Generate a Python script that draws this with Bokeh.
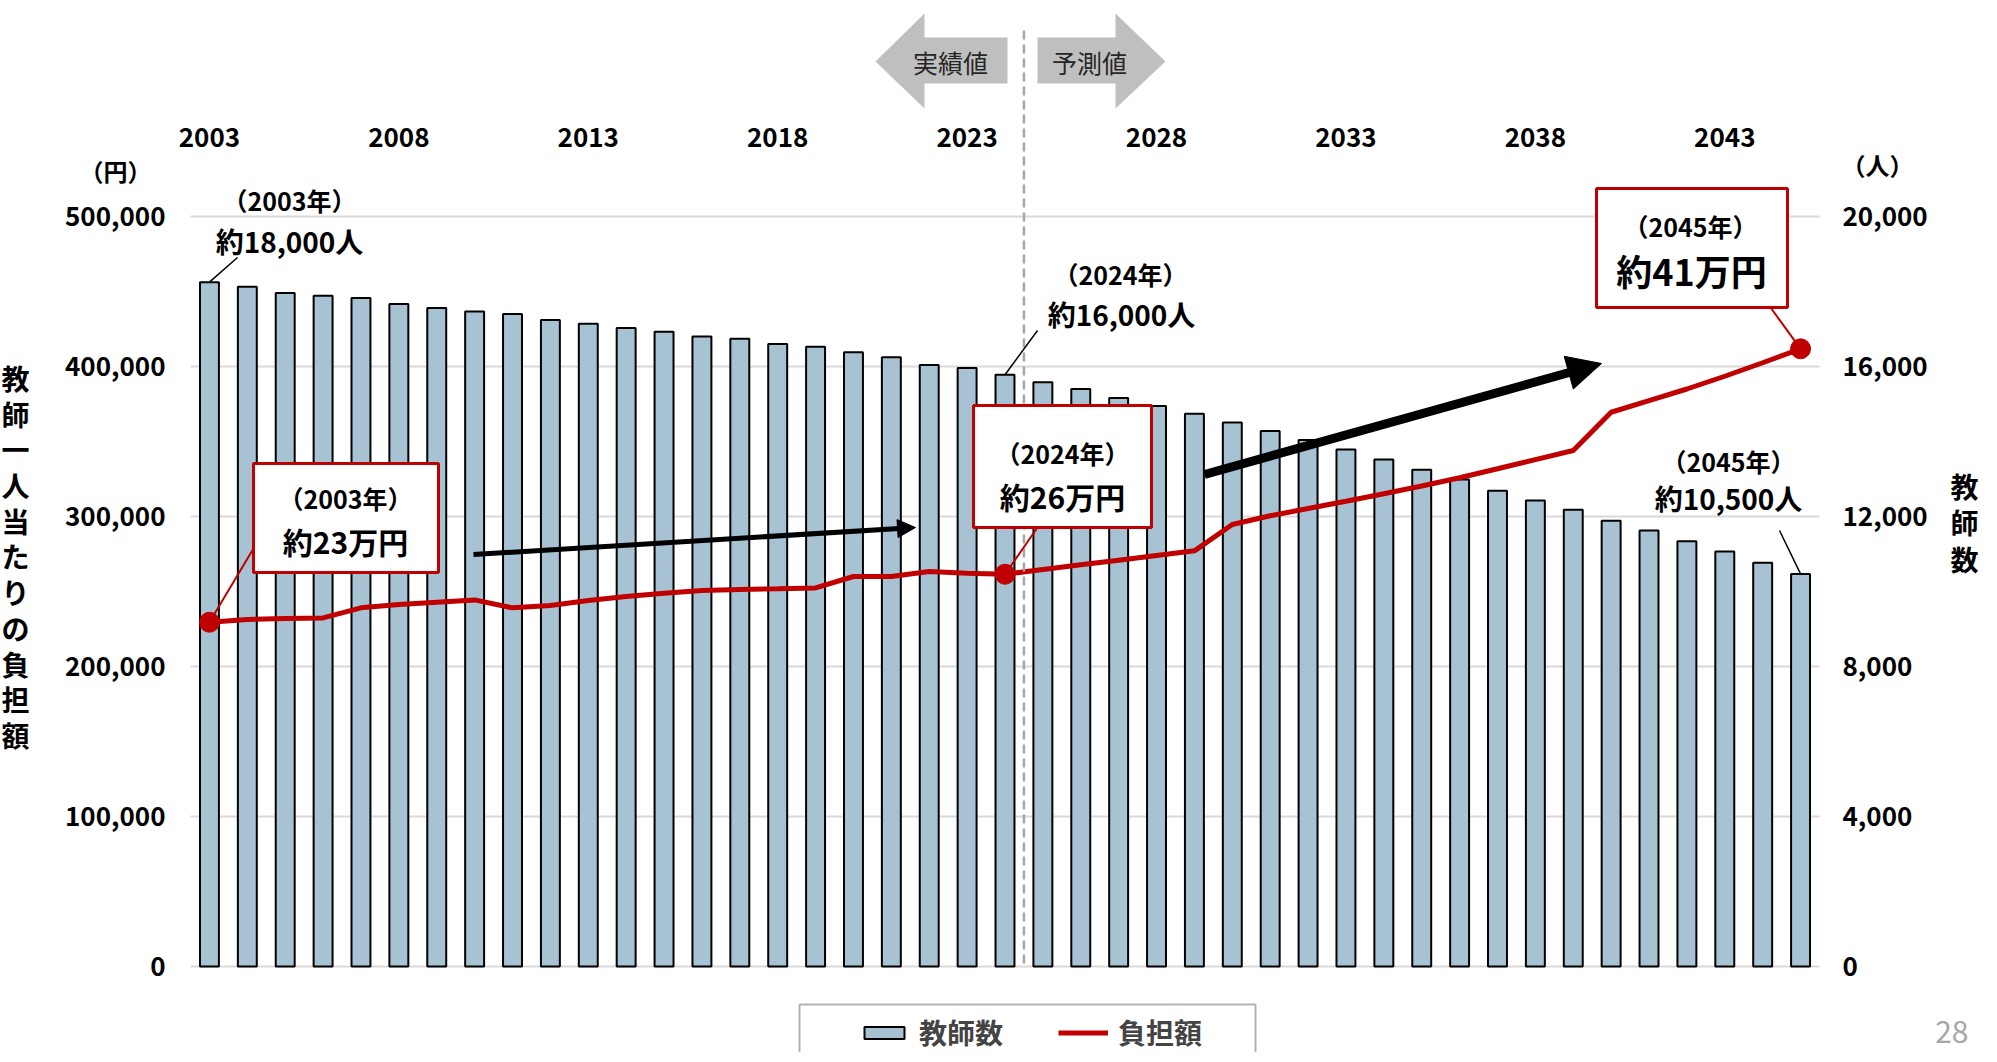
from bokeh.plotting import figure
from bokeh.models import (Range1d, LinearAxis, FixedTicker, NumeralTickFormatter, Label, Grid,
                          BoxAnnotation, PolyAnnotation, Arrow, NormalHead, Legend, LegendItem)
from bokeh.embed import file_html
from bokeh.resources import INLINE

# ---------------- data ----------------
years = list(range(2003, 2046))
teachers = [18250, 18130, 17960, 17890, 17830, 17670, 17560, 17470, 17400, 17240,
            17140, 17030, 16930, 16800, 16740, 16600, 16530, 16380, 16250, 16040,
            15960, 15780, 15580, 15400, 15160, 14950, 14740, 14510, 14280, 14040,
            13790, 13520, 13250, 12990, 12690, 12430, 12180, 11890, 11630, 11340,
            11070, 10770, 10470]
burden = [229500, 231300, 232000, 232400, 239100, 241300, 242900, 244400, 239100, 240700,
          244000, 246700, 248900, 250700, 251300, 251800, 252400, 260000, 260000, 263300,
          262200, 261500, 264700, 267800, 270900, 274000, 277100, 294700, 300500, 305300,
          310200, 315200, 320300, 325800, 331800, 337900, 344000, 369500, 377300, 385000,
          393500, 402500, 411800]
top_ticks = [2003, 2008, 2013, 2018, 2023, 2028, 2033, 2038, 2043]
left_ticks = [0, 100000, 200000, 300000, 400000, 500000]
right_ticks = [0, 4000, 8000, 12000, 16000, 20000]
highlight_years = [2003, 2024, 2045]
series_names = ["教師数", "負担額"]
left_title = "教師一人当たりの負担額"
right_title = "教師数"

FONT = "Noto Sans CJK JP"
RED = "#c00000"

# ---------------- layout (page pixels) ----------------
W, H = 1980, 1052            # figure size
OFF_X, OFF_Y = 8, 0          # where the canvas sits on the page
PX0, PX1 = 198, 1827         # plotting area left / right on the page
PY_TOP, PY0 = 156, 966       # plotting area top / baseline (value 0) on the page
X0, X1 = 2002.5, 2045.5      # category extent of the bars
PPY = (PX1 - PX0) / (X1 - X0)  # pixels per year
PPV = 150 / 100000           # pixels per yen
RATIO = 25                   # yen axis / people axis


def X(px):
    return X0 + (px - PX0) / PPY


def Y(py):
    return (PY0 - py) / PPV


p = figure(width=W, height=H,
           x_range=Range1d(X(OFF_X), X(OFF_X + W)), y_range=Range1d(Y(OFF_Y + H), Y(OFF_Y)),
           output_backend="svg", toolbar_location=None, x_axis_location="above",
           min_border=0, outline_line_color=None,
           background_fill_color="white", border_fill_color="white")
p.extra_y_ranges = {"people": Range1d(Y(OFF_Y + H) / RATIO, Y(OFF_Y) / RATIO)}
p.add_layout(LinearAxis(y_range_name="people"), "right")

p.xaxis.ticker = FixedTicker(ticks=top_ticks)
p.xaxis.fixed_location = Y(PY_TOP)
p.yaxis[0].ticker = FixedTicker(ticks=left_ticks)
p.yaxis[0].fixed_location = X0
p.yaxis[1].ticker = FixedTicker(ticks=right_ticks)
p.yaxis[1].fixed_location = X1
for ax in p.yaxis:
    ax.formatter = NumeralTickFormatter(format="0,0")
for ax in p.axis:
    ax.axis_line_color = None
    ax.major_tick_line_color = None
    ax.minor_tick_line_color = None
    ax.major_tick_out = 0
    ax.major_tick_in = 0
    ax.major_label_text_font = FONT
    ax.major_label_text_font_size = "26px"
    ax.major_label_text_font_style = "bold"
    ax.major_label_text_color = "black"
p.yaxis[0].major_label_standoff = 25
p.yaxis[1].major_label_standoff = 23
p.xaxis.major_label_standoff = 10

p.xgrid.visible = False
if "cross_bounds" in Grid.properties():
    p.ygrid.ticker = FixedTicker(ticks=left_ticks)
    p.ygrid.cross_bounds = (X0, X1)
    p.ygrid.grid_line_color = "#d9d9d9"
    p.ygrid.grid_line_width = 2
else:
    p.ygrid.visible = False
    p.segment(x0=[X0] * len(left_ticks), x1=[X1] * len(left_ticks), y0=left_ticks,
              y1=left_ticks, line_color="#d9d9d9", line_width=2, level="underlay")

bars = p.vbar(x=years, top=teachers, width=0.5, y_range_name="people",
              fill_color="#a7c3d3", line_color="black", line_width=2)
line = p.line(years, burden, line_color=RED, line_width=5)
hl_vals = [burden[years.index(y)] for y in highlight_years]
p.scatter(x=highlight_years, y=hl_vals, size=20, color=RED)

# divider between actual and forecast
p.add_layout(Arrow(end=None, x_start=2024.5, y_start=Y(30), x_end=2024.5, y_end=0,
                   line_color="#a6a6a6", line_width=2.5, line_dash="9 5"))

# gray direction arrows
left_arrow = [(883, 61), (932, 13), (932, 37), (1015, 37), (1015, 83), (932, 83), (932, 108)]
right_arrow = [(1045, 37), (1123, 37), (1123, 13), (1173, 61), (1123, 108), (1123, 83), (1045, 83)]
for shape in (left_arrow, right_arrow):
    p.add_layout(PolyAnnotation(xs=[X(a) for a, b in shape], ys=[Y(b) for a, b in shape],
                                fill_color="#bfbfbf", fill_alpha=1, line_color=None))


def label(text, px, py, size="24px", style="bold", color="black", align="center",
          baseline="middle", line_height=1.2):
    p.add_layout(Label(x=X(px), y=Y(py), text=text, text_font=FONT, text_font_size=size,
                       text_font_style=style, text_color=color, text_align=align,
                       text_baseline=baseline, text_line_height=line_height))


label("実績値", 958, 61, size="25px", style="normal", color="#262626")
label("予測値", 1097, 61, size="25px", style="normal", color="#262626")

# black trend arrows
p.add_layout(Arrow(end=NormalHead(size=18, fill_color="black", line_color="black"),
                   x_start=X(481), y_start=Y(554), x_end=X(923), y_end=Y(527),
                   line_color="black", line_width=5))
p.add_layout(Arrow(end=NormalHead(size=34, fill_color="black", line_color="black"),
                   x_start=X(1212), y_start=Y(474), x_end=X(1609), y_end=Y(363),
                   line_color="black", line_width=9))

# red callout boxes
boxes = [(261, 446, 463, 572), (981, 1159, 405, 527), (1604, 1795, 188, 307)]
for l, r, t, b in boxes:
    p.add_layout(BoxAnnotation(left=X(l), right=X(r), top=Y(t), bottom=Y(b),
                               fill_color="white", fill_alpha=1, line_color=RED,
                               line_width=3, line_alpha=1))


def leader(x0, y0, x1, y1, color, width):
    p.add_layout(Arrow(end=None, x_start=x0, y_start=y0, x_end=x1, y_end=y1,
                       line_color=color, line_width=width))


leader(2003, hl_vals[0], X(261), Y(548), RED, 2)
leader(2024, hl_vals[1], X(1045), Y(527), RED, 2)
leader(X(1778), Y(307), 2045, hl_vals[2], RED, 2)
leader(2003, teachers[0] * RATIO, X(245), Y(257), "black", 1.5)
leader(2024, teachers[years.index(2024)] * RATIO, X(1045), Y(330), "black", 1.5)
leader(X(1787), Y(530), 2045, teachers[-1] * RATIO, "black", 1.5)

# texts
label("（2003年）", 297, 199, size="25px")
label("約18,000人", 297, 240, size="28px")
label("（2024年）", 1128, 273, size="25px")
label("約16,000人", 1129, 313, size="28px")
label("（2045年）", 1736, 460, size="25px")
label("約10,500人", 1736, 497, size="28px")
label("（2003年）", 353, 497, size="25px")
label("約23万円", 353, 540, size="30px")
label("（2024年）", 1070, 452, size="25px")
label("約26万円", 1070, 495, size="30px")
label("（2045年）", 1698, 225, size="25px")
label("約41万円", 1699, 269, size="36px")

label("\n".join(left_title), 23, 556, size="28px", line_height=0.893)
label("\n".join(right_title), 1972, 522, size="28px", line_height=0.918)
label("（円）", 123, 170, size="24px")
label("（人）", 1885, 164, size="24px")
label("28", 1976, 1042, size="30px", style="normal", color="#a6a6a6", align="right",
      baseline="bottom")

# legend frame + legend
p.add_layout(PolyAnnotation(xs=[X(807), X(1263), X(1263), X(807)],
                            ys=[Y(1004), Y(1004), Y(1080), Y(1080)],
                            fill_color="white", fill_alpha=1, line_color="black", line_width=2))
legend = Legend(items=[LegendItem(label=series_names[0], renderers=[bars]),
                       LegendItem(label=series_names[1], renderers=[line])],
                orientation="horizontal", location=(859, 0), border_line_color=None,
                background_fill_alpha=0, glyph_width=50, glyph_height=15, label_standoff=10,
                spacing=55, padding=10, margin=0, label_text_font=FONT,
                label_text_font_size="28px", label_text_font_style="bold")
p.add_layout(legend, "center")

open("out.html", "w").write(file_html(p, INLINE))
